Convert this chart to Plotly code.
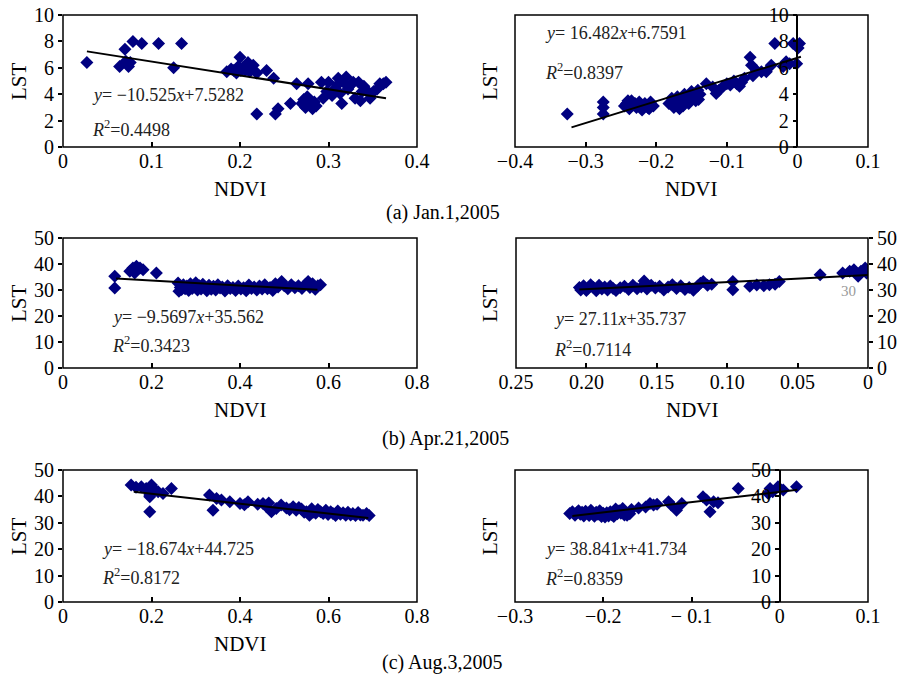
import plotly.graph_objects as go

# ---------------- data ----------------
# (a) Jan.1,2005 - left (NDVI > 0)
jan_pos_x = [0.027, 0.064, 0.070, 0.071, 0.074, 0.076, 0.079, 0.089, 0.108, 0.125,
             0.134, 0.185, 0.190, 0.193, 0.196, 0.198, 0.200, 0.201, 0.203, 0.206,
             0.209, 0.211, 0.215, 0.219, 0.230, 0.238, 0.219, 0.240, 0.243, 0.257,
             0.264, 0.277, 0.270, 0.272, 0.274, 0.276, 0.278, 0.280, 0.282, 0.284,
             0.286, 0.292, 0.294, 0.298, 0.300, 0.304, 0.307, 0.310, 0.311, 0.313,
             0.315, 0.317, 0.320, 0.322, 0.325, 0.328, 0.330, 0.334, 0.336, 0.338,
             0.340, 0.343, 0.347, 0.351, 0.355, 0.358, 0.362, 0.365]
jan_pos_y = [6.4, 6.1, 7.4, 6.5, 6.1, 6.4, 8.0, 7.85, 7.85, 6.0,
             7.85, 5.7, 5.9, 5.8, 5.6, 6.1, 6.8, 5.8, 6.0, 5.8,
             6.4, 5.7, 6.2, 5.6, 5.8, 5.2, 2.5, 2.5, 2.9, 3.3,
             4.8, 4.8, 3.3, 3.6, 3.0, 3.8, 3.2, 3.5, 2.9, 3.4,
             3.1, 4.9, 3.7, 4.2, 4.9, 3.9, 4.4, 4.7, 5.2, 4.05,
             3.3, 4.9, 5.3, 4.4, 4.7, 4.9, 3.7, 4.9, 3.5, 4.2,
             4.6, 4.3, 3.7, 4.2, 4.4, 4.8, 4.8, 4.9]

# (a) Jan.1,2005 - right (NDVI < 0)
jan_neg_x = [-0.326, -0.275, -0.275, -0.275, -0.245, -0.242, -0.238, -0.235, -0.232, -0.228,
             -0.224, -0.220, -0.216, -0.212, -0.208, -0.204, -0.240, -0.230, -0.218, -0.210,
             -0.182, -0.178, -0.175, -0.172, -0.170, -0.167, -0.164, -0.160, -0.157, -0.154,
             -0.150, -0.147, -0.144, -0.141, -0.138, -0.170, -0.162, -0.150, -0.140, -0.129,
             -0.120, -0.115, -0.111, -0.105, -0.100, -0.095, -0.090, -0.086, -0.082, -0.079,
             -0.075, -0.067, -0.065, -0.063, -0.058, -0.051, -0.044, -0.037, -0.032, -0.020,
             -0.016, -0.011, -0.006, -0.001, 0.001, 0.003]
jan_neg_y = [2.5, 3.0, 2.5, 3.4, 3.1, 3.3, 2.9, 3.5, 3.2, 3.0,
             3.4, 2.8, 3.3, 3.0, 3.4, 3.1, 3.5, 3.3, 3.1, 2.9,
             3.3, 3.7, 3.0, 3.5, 3.8, 2.9, 3.4, 4.0, 3.6, 3.3,
             4.2, 3.8, 3.5, 4.3, 4.0, 3.2, 3.1, 3.7, 3.6, 4.8,
             4.55, 4.05, 4.3, 4.6, 4.8, 4.7, 5.0, 4.8, 4.6, 4.9,
             5.2, 6.8, 6.2, 5.4, 5.8, 5.7, 5.7, 6.2, 7.85, 6.1,
             6.45, 6.3, 7.85, 6.3, 7.5, 7.85]

# (b) Apr.21,2005 - left
apr_pos_x = [0.117, 0.117, 0.151, 0.158, 0.162, 0.166, 0.174, 0.181, 0.211,
             0.260, 0.262, 0.265, 0.268, 0.272, 0.276, 0.280, 0.284, 0.288, 0.292,
             0.296, 0.300, 0.304, 0.308, 0.312, 0.316, 0.320, 0.325, 0.330, 0.335,
             0.340, 0.345, 0.350, 0.355, 0.360, 0.366, 0.372, 0.378, 0.384, 0.390,
             0.396, 0.402, 0.408, 0.414, 0.420, 0.426, 0.432, 0.438, 0.444, 0.450,
             0.456, 0.462, 0.468, 0.474, 0.480, 0.486, 0.494, 0.500, 0.508, 0.516,
             0.524, 0.532, 0.540, 0.548, 0.554, 0.558, 0.564, 0.570, 0.576, 0.582]
apr_pos_y = [30.8, 35.3, 37.2, 38.5, 36.5, 39.1, 38.5, 37.8, 36.5,
             32.7, 29.5, 31.0, 30.2, 32.0, 30.5, 31.5, 29.8, 32.4, 30.6,
             31.2, 32.8, 30.0, 31.6, 30.4, 32.2, 31.0, 29.7, 31.8, 30.3,
             31.4, 30.0, 32.0, 30.8, 31.2, 29.6, 31.6, 30.6, 31.0, 29.8,
             31.5, 30.4, 30.9, 29.7, 31.9, 30.6, 31.2, 30.0, 31.5, 30.4,
             32.0, 30.5, 31.0, 29.8, 32.4, 31.2, 33.3, 31.6, 30.5, 32.0,
             30.9, 31.6, 30.6, 32.2, 33.3, 31.0, 32.4, 30.3, 31.6, 32.0]

# (b) Apr.21,2005 - right
apr_neg_x = [-0.205, -0.204, -0.202, -0.200, -0.199, -0.197, -0.195, -0.193, -0.191, -0.189,
             -0.187, -0.185, -0.183, -0.181, -0.179, -0.176, -0.173, -0.170, -0.167, -0.164,
             -0.161, -0.159, -0.157, -0.154, -0.151, -0.148, -0.145, -0.142, -0.139, -0.136,
             -0.133, -0.130, -0.127, -0.124, -0.121, -0.119, -0.117, -0.114, -0.111, -0.096,
             -0.096, -0.084, -0.079, -0.074, -0.070, -0.066, -0.063, -0.034, -0.018, -0.013,
             -0.010, -0.007, -0.005, -0.002, -0.001]
apr_neg_y = [31.0, 30.0, 31.6, 29.8, 30.6, 32.0, 31.0, 29.7, 31.8, 30.4,
             31.2, 30.0, 31.5, 30.6, 29.8, 30.9, 31.4, 30.2, 31.8, 30.5,
             31.2, 33.5, 30.4, 31.8, 30.8, 31.4, 30.0, 31.2, 32.0, 30.6,
             31.6, 30.2, 31.0, 29.9, 31.5, 32.6, 33.3, 31.8, 32.2, 33.3,
             30.1, 31.4, 31.9, 31.6, 32.0, 32.2, 33.3, 35.9, 36.5, 37.2,
             37.8, 35.3, 37.2, 38.5, 36.5]

# (c) Aug.3,2005 - left
aug_pos_x = [0.154, 0.165, 0.177, 0.188, 0.196, 0.196, 0.196, 0.200, 0.207, 0.215,
             0.226, 0.245, 0.331, 0.339, 0.347, 0.358, 0.377, 0.400, 0.410, 0.418,
             0.440, 0.452, 0.460, 0.465, 0.471, 0.482, 0.493, 0.505, 0.512, 0.520,
             0.527, 0.533, 0.539, 0.545, 0.550, 0.557, 0.562, 0.565, 0.571, 0.576,
             0.582, 0.588, 0.594, 0.599, 0.605, 0.610, 0.616, 0.621, 0.627, 0.633,
             0.639, 0.644, 0.650, 0.655, 0.661, 0.667, 0.672, 0.678, 0.686, 0.692]
aug_pos_y = [44.3, 43.5, 43.7, 43.0, 40.5, 39.9, 34.2, 44.3, 42.4, 41.8,
             41.1, 43.0, 40.5, 34.8, 39.2, 38.6, 38.0, 37.3, 36.8, 38.0,
             37.0, 37.3, 36.1, 37.5, 34.2, 35.4, 36.7, 35.6, 34.9, 36.1,
             34.8, 35.8, 35.2, 34.0, 34.2, 32.9, 35.3, 34.0, 33.6, 35.0,
             34.2, 33.5, 34.8, 33.1, 34.2, 33.5, 32.8, 34.5, 33.2, 33.8,
             32.9, 34.0, 33.0, 33.5, 32.8, 33.9, 33.0, 32.9, 33.5, 32.8]

# (c) Aug.3,2005 - right
aug_neg_x = [-0.238, -0.235, -0.232, -0.230, -0.228, -0.226, -0.224, -0.222, -0.220, -0.218,
             -0.216, -0.214, -0.212, -0.210, -0.208, -0.206, -0.204, -0.202, -0.200, -0.198,
             -0.196, -0.194, -0.192, -0.190, -0.188, -0.186, -0.184, -0.182, -0.180, -0.178,
             -0.176, -0.173, -0.170, -0.168, -0.160, -0.152, -0.147, -0.143, -0.139, -0.126,
             -0.123, -0.117, -0.111, -0.087, -0.083, -0.079, -0.075, -0.070, -0.047, -0.013,
             -0.011, -0.008, -0.002, 0.004, 0.019]
aug_neg_y = [33.5, 34.2, 32.9, 33.8, 34.6, 33.2, 34.0, 32.6, 34.4, 33.6,
             32.8, 34.8, 33.4, 32.5, 34.0, 33.2, 34.6, 32.4, 33.6, 32.2,
             33.8, 32.6, 34.2, 33.0, 32.4, 35.2, 33.4, 34.6, 33.6, 35.4,
             33.0, 32.9, 33.4, 35.0, 35.6, 36.0, 37.3, 36.7, 37.0, 38.0,
             36.7, 34.8, 37.3, 39.9, 38.6, 34.2, 38.0, 37.6, 43.0, 41.1,
             43.0, 41.8, 43.7, 42.4, 43.7]

# regression equations (slope, intercept) and fitted x-extent
slopes = [-10.525, 16.482, -9.5697, 27.11, -18.674, 38.841]
intercepts = [7.5282, 6.7591, 35.562, 35.737, 44.725, 41.734]
fit_x0 = [0.027, -0.32, 0.12, -0.205, 0.16, -0.235]
fit_x1 = [0.365, 0.005, 0.575, 0.0, 0.69, 0.02]
eq_text = ["<i>y</i>= −10.525<i>x</i>+7.5282", "<i>y</i>= 16.482<i>x</i>+6.7591",
           "<i>y</i>= −9.5697<i>x</i>+35.562", "<i>y</i>= 27.11<i>x</i>+35.737",
           "<i>y</i>= −18.674<i>x</i>+44.725", "<i>y</i>= 38.841<i>x</i>+41.734"]
r2_text = ["<i>R</i><sup>2</sup>=0.4498", "<i>R</i><sup>2</sup>=0.8397",
           "<i>R</i><sup>2</sup>=0.3423", "<i>R</i><sup>2</sup>=0.7114",
           "<i>R</i><sup>2</sup>=0.8172", "<i>R</i><sup>2</sup>=0.8359"]
captions = ["(a) Jan.1,2005", "(b) Apr.21,2005", "(c) Aug.3,2005"]

xticks = [[0, 0.1, 0.2, 0.3, 0.4], [-0.4, -0.3, -0.2, -0.1, 0, 0.1],
          [0, 0.2, 0.4, 0.6, 0.8], [-0.25, -0.2, -0.15, -0.1, -0.05, 0],
          [0, 0.2, 0.4, 0.6, 0.8], [-0.3, -0.2, -0.1, 0, 0.1]]
xticklabels = [["0", "0.1", "0.2", "0.3", "0.4"], ["−0.4", "−0.3", "−0.2", "−0.1", "0", "0.1"],
               ["0", "0.2", "0.4", "0.6", "0.8"], ["0.25", "0.20", "0.15", "0.10", "0.05", "0"],
               ["0", "0.2", "0.4", "0.6", "0.8"], ["−0.3", "−0.2", "− 0.1", "0", "0.1"]]
yticks_small = [0, 2, 4, 6, 8, 10]
yticks_large = [0, 10, 20, 30, 40, 50]

xs = [jan_pos_x, jan_neg_x, apr_pos_x, apr_neg_x, aug_pos_x, aug_neg_x]
ys = [jan_pos_y, jan_neg_y, apr_pos_y, apr_neg_y, aug_pos_y, aug_neg_y]

# ---------------- layout geometry (pixels) ----------------
W, H = 899, 680
def pxf(v): return v / W
def pyf(v): return 1 - v / H

panels = [
    dict(bx=(63, 417), by=(15, 147), xr=[0, 0.4], yr=[0, 10], yt=yticks_small, mode="left"),
    dict(bx=(515, 868), by=(15, 147), xr=[-0.4, 0.1], yr=[0, 10], yt=yticks_small, mode="zero"),
    dict(bx=(63, 417), by=(238, 368), xr=[0, 0.8], yr=[0, 50], yt=yticks_large, mode="left"),
    dict(bx=(516, 868), by=(238, 368), xr=[-0.25, 0], yr=[0, 50], yt=yticks_large, mode="right"),
    dict(bx=(63, 417), by=(470, 602), xr=[0, 0.8], yr=[0, 50], yt=yticks_large, mode="left"),
    dict(bx=(515, 868), by=(470, 602), xr=[-0.3, 0.1], yr=[0, 50], yt=yticks_large, mode="zero"),
]
eq_pos = [(90, 95), (543, 33), (110, 317), (552, 319), (100, 549), (543, 549)]
r2_pos = [(90, 128), (543, 72), (110, 344), (552, 348), (100, 576), (543, 577)]

FONT = "Liberation Serif, Times New Roman, serif"
NAVY = "#000080"

fig = go.Figure()
layout = dict(width=W, height=H, margin=dict(l=0, r=0, t=0, b=0, pad=0, autoexpand=False),
              paper_bgcolor="white", plot_bgcolor="white", showlegend=False,
              font=dict(family=FONT, size=20, color="black"))
shapes, annotations = [], []

for i, p in enumerate(panels):
    n = "" if i == 0 else str(i + 1)
    xa, ya = "x" + n, "y" + n
    xdom = [pxf(p["bx"][0]), pxf(p["bx"][1])]
    ydom = [pyf(p["by"][1]), pyf(p["by"][0])]
    layout["xaxis" + n] = dict(domain=xdom, range=p["xr"], anchor=ya, showgrid=False, zeroline=False,
                               automargin=False, showline=False, ticks="inside", ticklen=5,
                               tickwidth=1.5, tickcolor="black",
                               tickvals=xticks[i], ticktext=xticklabels[i],
                               tickfont=dict(family=FONT, size=20))
    yax = dict(domain=ydom, range=p["yr"], showgrid=False, zeroline=False, automargin=False,
               ticks="outside", ticklen=4, tickwidth=1.5, tickcolor="black", tickvals=p["yt"],
               tickfont=dict(family=FONT, size=20))
    if p["mode"] == "left":
        yax.update(anchor=xa, side="left", showline=False)
    elif p["mode"] == "right":
        yax.update(anchor=xa, side="right", showline=False)
    else:
        frac = (0 - p["xr"][0]) / (p["xr"][1] - p["xr"][0])
        yax.update(anchor="free", position=xdom[0] + frac * (xdom[1] - xdom[0]), side="left",
                   showline=True, linecolor="black", linewidth=1.5)
    layout["yaxis" + n] = yax

    # frame
    shapes.append(dict(type="rect", xref=xa + " domain", yref=ya + " domain", x0=0, x1=1, y0=0, y1=1,
                       line=dict(color="black", width=1.5), layer="above"))

    fig.add_trace(go.Scatter(x=xs[i], y=ys[i], mode="markers", xaxis=xa, yaxis=ya,
                             marker=dict(symbol="diamond", size=10, color=NAVY,
                                         line=dict(width=0)), hoverinfo="skip"))
    lx = [fit_x0[i], fit_x1[i]]
    ly = [slopes[i] * v + intercepts[i] for v in lx]
    fig.add_trace(go.Scatter(x=lx, y=ly, mode="lines", xaxis=xa, yaxis=ya,
                             line=dict(color="black", width=2), hoverinfo="skip"))

    annotations.append(dict(text=eq_text[i], x=pxf(eq_pos[i][0]), y=pyf(eq_pos[i][1]), xref="paper",
                            yref="paper", xanchor="left", yanchor="middle", showarrow=False,
                            font=dict(family=FONT, size=18, color="#222222")))
    annotations.append(dict(text=r2_text[i], x=pxf(r2_pos[i][0]), y=pyf(r2_pos[i][1]), xref="paper",
                            yref="paper", xanchor="left", yanchor="middle", showarrow=False,
                            font=dict(family=FONT, size=18, color="#222222")))
    # LST title
    lx_pix = 19 if p["bx"][0] < 300 else 490
    annotations.append(dict(text="LST", textangle=-90, x=pxf(lx_pix), y=pyf((p["by"][0] + p["by"][1]) / 2),
                            xref="paper", yref="paper", xanchor="center", yanchor="middle", showarrow=False,
                            font=dict(family=FONT, size=21)))
    # NDVI title (not on the last panel)
    if i != 5:
        annotations.append(dict(text="NDVI", x=pxf((p["bx"][0] + p["bx"][1]) / 2), y=pyf(p["by"][1] + 42),
                                xref="paper", yref="paper", xanchor="center", yanchor="middle",
                                showarrow=False, font=dict(family=FONT, size=21)))

# faint stray label inside panel (b) right
annotations.append(dict(text="30", x=-0.014, y=29.5, xref="x4", yref="y4", showarrow=False,
                        font=dict(family=FONT, size=15, color="#9a9a9a")))

for k, (cx, cy) in enumerate([(443, 212), (445, 438), (442, 662)]):
    annotations.append(dict(text=captions[k], x=pxf(cx), y=pyf(cy), xref="paper", yref="paper",
                            xanchor="center", yanchor="middle", showarrow=False,
                            font=dict(family=FONT, size=20)))

layout["shapes"] = shapes
layout["annotations"] = annotations
fig.update_layout(**layout)
fig.write_html("out.html", config={"displayModeBar": False},
               post_script="document.body.style.margin='0';document.body.style.overflow='hidden';")
